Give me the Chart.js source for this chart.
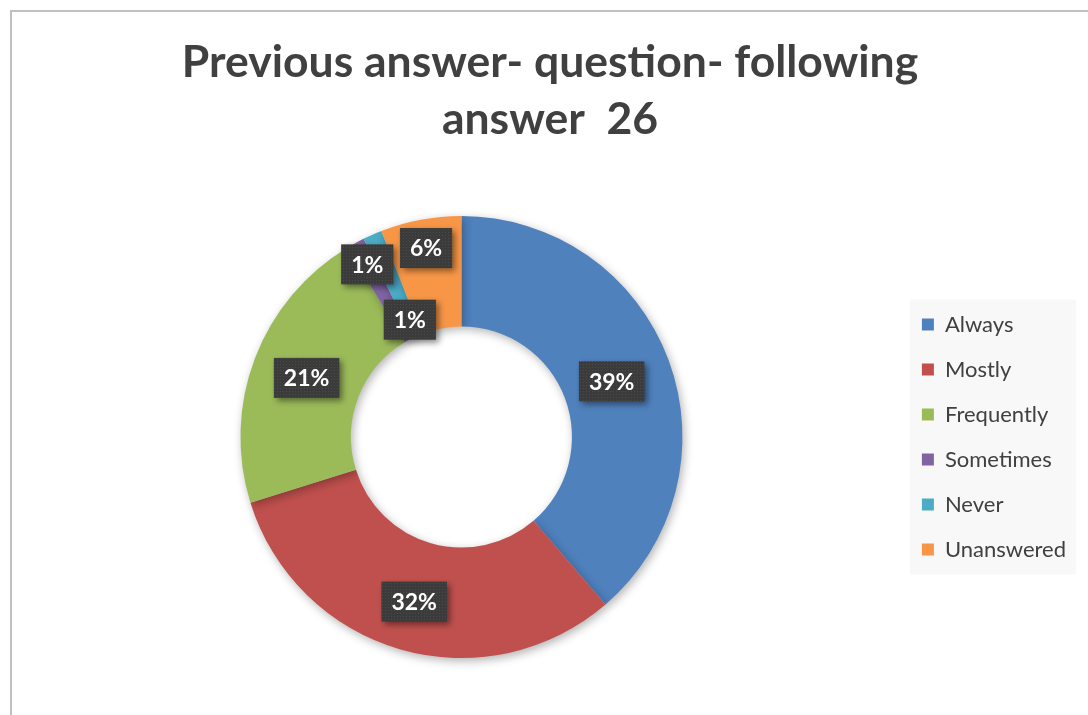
<!DOCTYPE html>
<html>
<head>
<meta charset="utf-8">
<script src="https://cdn.jsdelivr.net/npm/chart.js@4.4.1/dist/chart.umd.min.js"></script>
<style>
  html, body { margin: 0; padding: 0; background: #ffffff; }
  #wrap { position: relative; width: 1088px; height: 715px; overflow: hidden; }
  #frame { position: absolute; left: 10px; top: 10px; width: 1100px; height: 720px;
           border-left: 2px solid #c0c0c0; border-top: 2px solid #c0c0c0; box-sizing: border-box; }
  canvas { position: absolute; left: 0; top: 0; }
</style>
</head>
<body>
<div id="wrap">
  <div id="frame"></div>
  <canvas id="c" width="1088" height="715"></canvas>
</div>
<script>
// ---- data ----
const titleLines = ['Previous answer- question- following', 'answer  26'];
const categories = ['Always', 'Mostly', 'Frequently', 'Sometimes', 'Never', 'Unanswered'];
const shares = [38.7, 31.5, 21.2, 1.3, 1.4, 5.9];
const labelTexts = ['39%', '32%', '21%', '1%', '1%', '6%'];
const colors = ['#4F81BD', '#C0504D', '#9BBB59', '#8064A2', '#4BACC6', '#F79646'];
// relative depth of each label inside the ring (0 = inner edge, 1 = outer edge)
const labelDepth = [0.45, 0.55, 0.5, 0.78, 0.16, 0.74];

const FONT = 'Lato, "Open Sans", "DejaVu Sans", sans-serif';

function makePattern(ctx) {
  const pc = document.createElement('canvas');
  pc.width = 3; pc.height = 3;
  const p = pc.getContext('2d');
  p.fillStyle = '#3b3b3b';
  p.fillRect(0, 0, 3, 3);
  p.fillStyle = '#4a4a4a';
  p.fillRect(1, 1, 1, 1);
  return ctx.createPattern(pc, 'repeat');
}

const shadowPlugin = {
  id: 'ringShadow',
  beforeDatasetsDraw(chart) {
    const ctx = chart.ctx;
    ctx.save();
    ctx.shadowColor = 'rgba(0,0,0,0.30)';
    ctx.shadowBlur = 10;
    ctx.shadowOffsetX = 2;
    ctx.shadowOffsetY = 3;
  },
  afterDatasetsDraw(chart) {
    chart.ctx.restore();
  }
};

const legendBg = {
  id: 'legendBg',
  beforeDraw(chart) {
    const lg = chart.legend;
    if (!lg || !lg.legendHitBoxes || !lg.legendHitBoxes.length) return;
    const hb = lg.legendHitBoxes;
    let l = Infinity, r = -Infinity, t = Infinity, b = -Infinity;
    hb.forEach(h => {
      l = Math.min(l, h.left); r = Math.max(r, h.left + h.width);
      t = Math.min(t, h.top); b = Math.max(b, h.top + h.height);
    });
    const ctx = chart.ctx;
    ctx.save();
    ctx.fillStyle = '#f8f8f8';
    ctx.fillRect(l - 12, t - 14, (r - l) + 22, (b - t) + 28);
    ctx.restore();
  }
};

const boxLabels = {
  id: 'boxLabels',
  afterDatasetsDraw(chart) {
    const ctx = chart.ctx;
    const meta = chart.getDatasetMeta(0);
    const pattern = makePattern(ctx);
    meta.data.forEach((arc, i) => {
      const p = arc.getProps(['x', 'y', 'startAngle', 'endAngle', 'innerRadius', 'outerRadius'], true);
      const mid = (p.startAngle + p.endAngle) / 2;
      const r = p.innerRadius + labelDepth[i] * (p.outerRadius - p.innerRadius);
      const x = p.x + Math.cos(mid) * r;
      const y = p.y + Math.sin(mid) * r;
      const text = labelTexts[i];
      ctx.save();
      ctx.font = 'bold 23px ' + FONT;
      const tw = ctx.measureText(text).width;
      const w = tw + 20, h = 40;
      ctx.shadowColor = 'rgba(0,0,0,0.45)';
      ctx.shadowBlur = 6;
      ctx.shadowOffsetX = 3;
      ctx.shadowOffsetY = 3;
      ctx.fillStyle = pattern;
      ctx.fillRect(x - w / 2, y - h / 2, w, h);
      ctx.shadowColor = 'transparent';
      ctx.fillStyle = '#ffffff';
      ctx.textAlign = 'center';
      ctx.textBaseline = 'middle';
      ctx.fillText(text, x, y + 1);
      ctx.restore();
    });
  }
};

new Chart(document.getElementById('c'), {
  type: 'doughnut',
  data: {
    labels: categories,
    datasets: [{
      data: shares,
      backgroundColor: colors,
      borderWidth: 0
    }]
  },
  options: {
    responsive: false,
    animation: false,
    cutout: '50%',
    layout: { padding: { left: 24, right: 12, top: 0, bottom: 57 } },
    plugins: {
      title: {
        display: true,
        text: titleLines,
        color: '#404040',
        font: { family: FONT, size: 44.5, weight: 'bold', lineHeight: 1.281 },
        padding: { top: 34, bottom: 68 }
      },
      legend: {
        position: 'right',
        fullSize: false,
        labels: {
          color: '#404040',
          font: { family: FONT, size: 22 },
          boxWidth: 12,
          boxHeight: 12,
          padding: 23
        }
      },
      tooltip: { enabled: false }
    }
  },
  plugins: [legendBg, shadowPlugin, boxLabels]
});
</script>
</body>
</html>
